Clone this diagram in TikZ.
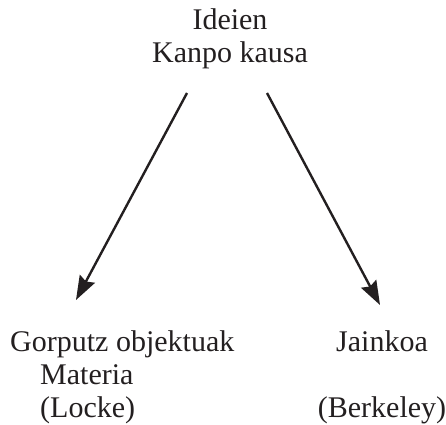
\documentclass[tikz,border=0pt]{standalone}
\usepackage{fontspec}
\setmainfont{Liberation Serif}
\usetikzlibrary{arrows.meta}
\definecolor{ink}{RGB}{35,31,32}
\begin{document}
\begin{tikzpicture}[x=1pt,y=1pt,
  lbl/.style={inner sep=0pt, anchor=base, text=ink, font=\fontsize{30}{33}\selectfont},
  arr/.style={draw=ink, line width=2.4pt, -{Stealth[length=24pt,width=17pt,inset=3pt]}}]
\useasboundingbox (0,0) rectangle (446,424);
\node[lbl] (ideien) at (230,394) {Ideien};
\node[lbl] (kanpo) at (230,361) {Kanpo kausa};
\node[lbl, anchor=base west] (gorputz) at (10,73) {Gorputz objektuak};
\node[lbl, anchor=base west] (materia) at (40,40) {Materia};
\node[lbl, anchor=base west] (locke) at (40,7) {(Locke)};
\node[lbl] (jainkoa) at (382,73) {Jainkoa};
\node[lbl] (berkeley) at (382,7) {(Berkeley)};
\coordinate (a1) at (187,331);
\coordinate (b1) at (76,124);
\coordinate (a2) at (267,331);
\coordinate (b2) at (380,119);
\draw[arr] (a1) -- (b1);
\draw[arr] (a2) -- (b2);
\end{tikzpicture}
\end{document}
